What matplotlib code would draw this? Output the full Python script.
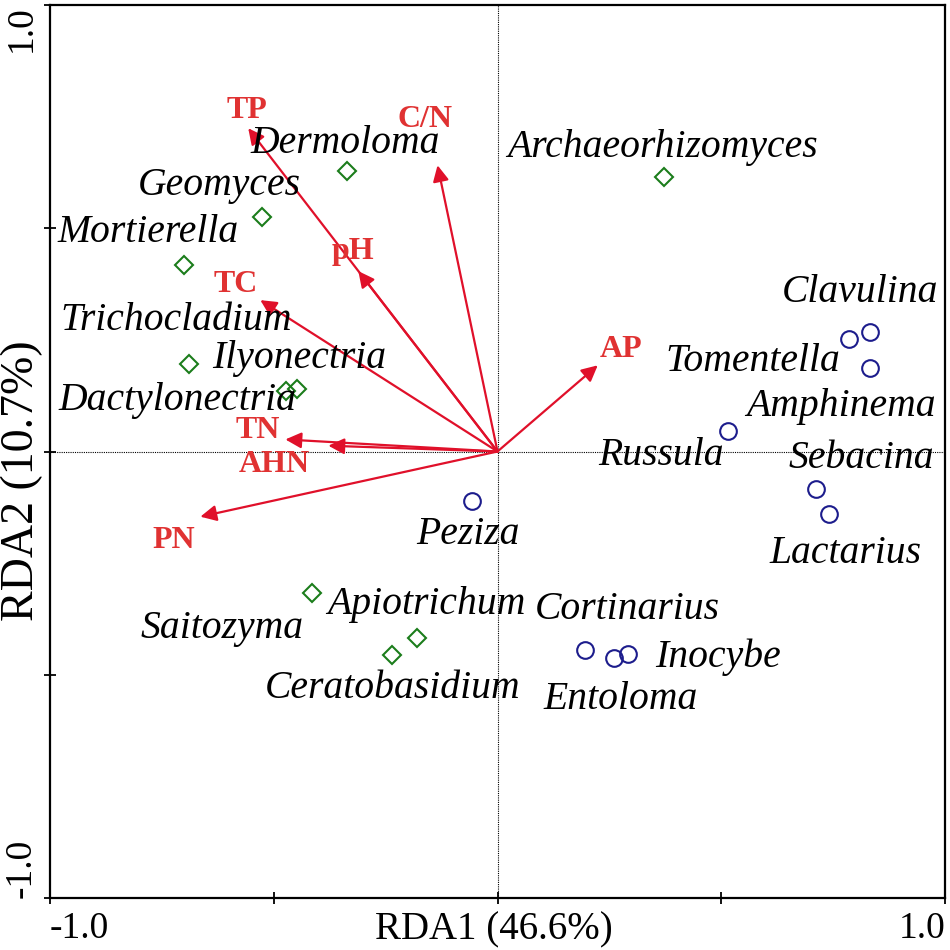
import matplotlib
matplotlib.use("Agg")
import matplotlib.pyplot as plt

# environmental vectors (RDA1, RDA2)
env_names = ["TP", "C/N", "pH", "TC", "TN", "AHN", "PN", "AP"]
env_x = [-0.557, -0.134, -0.311, -0.530, -0.474, -0.378, -0.664, 0.224]
env_y = [0.724, 0.641, 0.404, 0.339, 0.027, 0.013, -0.146, 0.193]
# label spots in pixels (centre x, baseline y)
env_lab_px = [247, 425, 353, 235, 258, 274, 174, 620]
env_lab_py = [118, 127, 259, 292, 438, 471, 547, 357]

# genus scores, group 1 (green diamonds)
g1_x = [-0.336, -0.526, -0.700, -0.689, -0.472, -0.447, 0.371, -0.414, -0.235, -0.179]
g1_y = [0.628, 0.525, 0.417, 0.197, 0.135, 0.141, 0.614, -0.316, -0.455, -0.417]
# genus scores, group 2 (blue circles)
g2_x = [-0.056, 0.515, 0.785, 0.832, 0.832, 0.711, 0.741, 0.195, 0.260, 0.291]
g2_y = [-0.110, 0.045, 0.251, 0.267, 0.188, -0.083, -0.139, -0.444, -0.462, -0.453]

# genus labels (centre x, baseline y, in pixels)
genus_names = ["Dermoloma", "Geomyces", "Mortierella", "Trichocladium", "Ilyonectria",
               "Dactylonectria", "Archaeorhizomyces", "Apiotrichum", "Saitozyma",
               "Ceratobasidium", "Peziza", "Russula", "Clavulina", "Tomentella",
               "Amphinema", "Sebacina", "Lactarius", "Cortinarius", "Inocybe", "Entoloma"]
genus_px = [345, 219, 148, 176, 299, 177, 662, 426, 222, 392, 468, 660, 859, 752, 840,
            860, 845, 627, 717, 620]
genus_py = [153, 195, 242, 330, 368, 410, 157, 613, 637, 697, 543, 464, 302, 371, 416,
            467, 562, 618, 666, 708]


def px2data(px, py):
    return (px - 497) / 447.0, (451 - py) / 446.0


serif = "Liberation Serif"

fig = plt.figure(figsize=(9.5, 9.5), dpi=100)
ax = fig.add_axes([50 / 950, 52 / 950, 895 / 950, 893 / 950])
ax.set_xlim(-1, 1)
ax.set_ylim(-1, 1)

ax.axhline(0, color="black", lw=0.8, ls=(0, (1, 1)), zorder=1)
ax.axvline(0, color="black", lw=0.8, ls=(0, (1, 1)), zorder=1)

for i in range(len(env_names)):
    ax.annotate("", xy=(env_x[i], env_y[i]), xytext=(0, 0),
                arrowprops=dict(arrowstyle="-|>", color="#e0102a", lw=1.6,
                                mutation_scale=24, shrinkA=0, shrinkB=0), zorder=3)
    lx, ly = px2data(env_lab_px[i], env_lab_py[i])
    ax.text(lx, ly, env_names[i], color="#e03232", fontsize=23, fontweight="bold",
            family=serif, ha="center", va="baseline", zorder=4)

ax.plot(g1_x, g1_y, ls="none", marker="D", ms=9, mfc="none", mec="#1b7d1b", mew=1.5, zorder=5)
ax.plot(g2_x, g2_y, ls="none", marker="o", ms=12, mfc="none", mec="#1c1c8c", mew=1.5, zorder=5)

for name, px, py in zip(genus_names, genus_px, genus_py):
    x, y = px2data(px, py)
    ax.text(x, y, name, fontsize=28.5, style="italic", family=serif,
            ha="center", va="baseline", zorder=6)

ax.set_xticks([-1, -0.5, 0, 0.5, 1])
ax.set_yticks([-1, -0.5, 0, 0.5, 1])
ax.set_xticklabels(["-1.0", "", "", "", "1.0"])
ax.set_yticklabels(["-1.0", "", "", "", "1.0"], rotation=90)
ax.tick_params(direction="inout", length=8, width=1.3, labelsize=27)
ax.tick_params(axis="x", pad=6)
ax.tick_params(axis="y", pad=4)
xl = ax.get_xticklabels()
xl[0].set_ha("left")
xl[-1].set_ha("right")
yl = ax.get_yticklabels()
yl[0].set_va("bottom")
yl[-1].set_va("top")
for lab in xl + yl:
    lab.set_family(serif)
for s in ax.spines.values():
    s.set_linewidth(1.6)

ax.set_xlabel("RDA1 (46.6%)", fontsize=28, family=serif, va="center")
ax.xaxis.set_label_coords(0.496, -0.036)
ax.set_ylabel("RDA2 (10.7%)", fontsize=33, family=serif, va="center")
ax.yaxis.set_label_coords(-0.031, 0.467)

fig.savefig("out.png", dpi=100)
